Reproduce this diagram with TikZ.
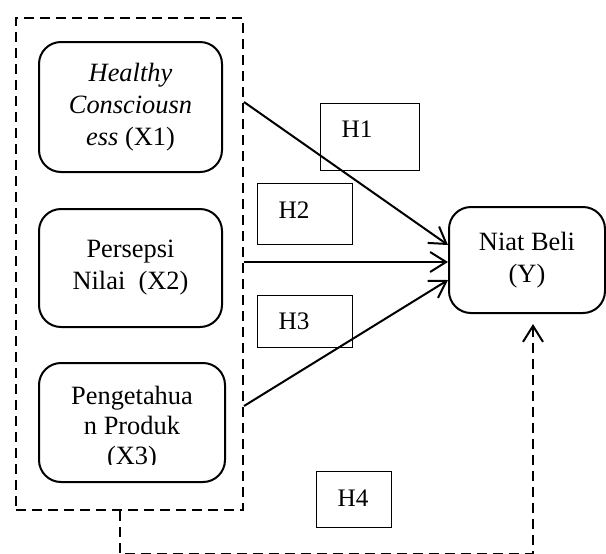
\documentclass[tikz,border=0pt]{standalone}
\usepackage{fontspec}
\setmainfont{Liberation Serif}
\usetikzlibrary{arrows.meta}

\begin{document}
\begin{tikzpicture}[x=0.5pt, y=-0.5pt, >={Straight Barb[length=8pt,width=10pt]},
    varbox/.style={draw, line width=1pt, rounded corners=11pt, align=center, inner sep=0pt, font=\fontsize{13.2}{16}\selectfont},
    hbox/.style={draw, line width=0.7pt, align=left, inner xsep=10.5pt, inner ysep=0pt, anchor=north west, font=\fontsize{12.6}{14}\selectfont},
    dsh/.style={line width=1pt, dash pattern=on 5pt off 3pt},
    arr/.style={->, line width=1pt}]
    \useasboundingbox (0,0) rectangle (606,553);

    \node[draw, dsh, minimum width=113.5pt, minimum height=246pt, inner sep=0pt] (grp) at (129.5,264) {};

    \node[varbox, minimum width=91.5pt, minimum height=65pt] (x1) at (130.5,107) {\textit{Healthy}\\\textit{Consciousn}\\\textit{ess} (X1)};
    \node[varbox, minimum width=91.5pt, minimum height=59pt] (x2) at (130.5,268) {Persepsi\\Nilai~ (X2)};
    \begin{scope}
        \clip (39,363) rectangle (225,464);
        \node[align=center, inner sep=0pt, font=\fontsize{13.2}{15}\selectfont] (x3t) at (132,428) {Pengetahua\\n Produk\\(X3)};
    \end{scope}
    \node[varbox, minimum width=93pt, minimum height=59.5pt] (x3) at (132,422.5) {};

    \node[varbox, minimum width=78pt, minimum height=53pt] (niat) at (527,260) {Niat Beli\\(Y)};

    \node[hbox, text width=28.5pt, text height=17pt, text depth=16.5pt] (h1) at (320,103) {H1};
    \node[hbox, text width=26.5pt, text height=17.5pt, text depth=13pt] (h2) at (257,183) {H2};
    \node[hbox, text width=26.5pt, text height=17pt, text depth=9pt] (h3) at (257,295) {H3};
    \node[hbox, text width=16.5pt, text height=17.5pt, text depth=10.5pt] (h4) at (316,471) {H4};

    \draw[arr] ([yshift=81pt]grp.east) -- ([yshift=7.5pt]niat.west);
    \draw[arr] ([yshift=1pt]grp.east) -- ([yshift=-1pt]niat.west);
    \draw[arr] ([yshift=-71pt]grp.east) -- ([yshift=-10pt]niat.west);

    \draw[dsh, ->] ([xshift=-4.75pt]grp.south) -- ++(0,42.6) -| ([shift={(3pt,-5pt)}]niat.south);
\end{tikzpicture}
\end{document}
